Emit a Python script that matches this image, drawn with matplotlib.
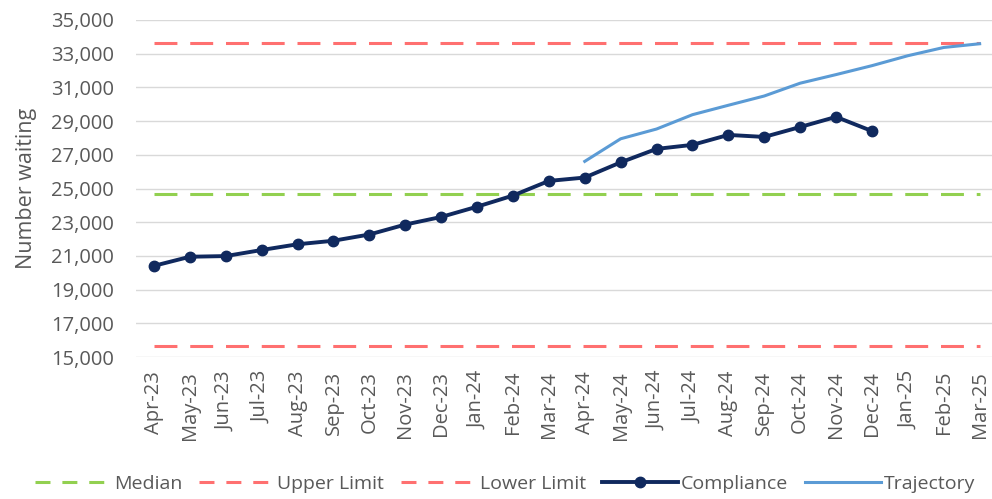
import matplotlib
matplotlib.use("Agg")
import matplotlib.pyplot as plt
from matplotlib.lines import Line2D
from matplotlib.ticker import FuncFormatter

plt.rcParams['font.family'] = ['Open Sans', 'DejaVu Sans']

months = ["Apr-23", "May-23", "Jun-23", "Jul-23", "Aug-23", "Sep-23", "Oct-23",
          "Nov-23", "Dec-23", "Jan-24", "Feb-24", "Mar-24", "Apr-24", "May-24",
          "Jun-24", "Jul-24", "Aug-24", "Sep-24", "Oct-24", "Nov-24", "Dec-24",
          "Jan-25", "Feb-25", "Mar-25"]

compliance = [20410, 20950, 20990, 21350, 21690, 21900, 22270, 22860, 23310,
              23920, 24580, 25450, 25650, 26550, 27350, 27590, 28180, 28060,
              28650, 29250, 28410]

# trajectory starts at Apr-24 (index 12)
trajectory_start = 12
trajectory = [26610, 27950, 28530, 29380, 29940, 30490, 31250, 31760, 32290,
              32880, 33370, 33590]

median = 24650
upper_limit = 33620
lower_limit = 15640

y_ticks = list(range(15000, 35001, 2000))

c_median = "#92D050"
c_limit = "#FF7070"
c_comp = "#10295E"
c_traj = "#5B9BD5"
c_text = "#595959"

fig = plt.figure(figsize=(9.92, 4.99), dpi=100)
ax = fig.add_axes([136 / 992, 1 - 357 / 499, (992 - 136) / 992, (357 - 20) / 499])

n = len(months)
xs = list(range(n))
dash = (0, (7.5, 4.2))

ax.plot(xs, [median] * n, color=c_median, lw=2.2, ls=dash, zorder=2)
ax.plot(xs, [upper_limit] * n, color=c_limit, lw=2.2, ls=dash, zorder=2)
ax.plot(xs, [lower_limit] * n, color=c_limit, lw=2.2, ls=dash, zorder=2)
ax.plot(xs[:len(compliance)], compliance, color=c_comp, lw=2.8, marker="o",
        markersize=7.5, zorder=4)
ax.plot(xs[trajectory_start:trajectory_start + len(trajectory)], trajectory,
        color=c_traj, lw=2.2, zorder=3)

ax.set_xlim(-0.5, (992 - 136) / 35.9 - 0.5)
ax.set_ylim(y_ticks[0], y_ticks[-1])
ax.set_yticks(y_ticks)
ax.yaxis.set_major_formatter(FuncFormatter(lambda v, p: f"{int(v):,}"))
ax.set_xticks(xs)
ax.set_xticklabels(months, rotation=90)

ax.grid(axis="y", color="#D9D9D9", lw=1.0, zorder=0)
ax.set_axisbelow(True)
for s in ax.spines.values():
    s.set_visible(False)
ax.tick_params(axis="both", length=0, colors=c_text, labelsize=14.5)
ax.tick_params(axis="y", pad=16)
ax.tick_params(axis="x", pad=10)
ax.set_ylabel("Number waiting", color=c_text, fontsize=15.5)
ax.yaxis.set_label_coords(-(136 - 37) / 856, 0.5)

# legend keys use shorter dashes than the plotted lines
key_dash = (0, (4.9, 3.9))
handles = [
    Line2D([], [], color=c_median, lw=2.2, ls=key_dash),
    Line2D([], [], color=c_limit, lw=2.2, ls=key_dash),
    Line2D([], [], color=c_limit, lw=2.2, ls=key_dash),
    Line2D([], [], color=c_comp, lw=2.8, marker="o", markersize=7.5),
    Line2D([], [], color=c_traj, lw=2.2),
]
labels = ["Median", "Upper Limit", "Lower Limit", "Compliance", "Trajectory"]
fig.legend(handles, labels, loc="center", bbox_to_anchor=(505 / 992, 1 - 484 / 499),
           ncol=5, frameon=False, fontsize=14, handlelength=3.9, handletextpad=0.15,
           columnspacing=0.85, labelcolor=c_text, borderaxespad=0)

fig.savefig("out.png", dpi=100)
